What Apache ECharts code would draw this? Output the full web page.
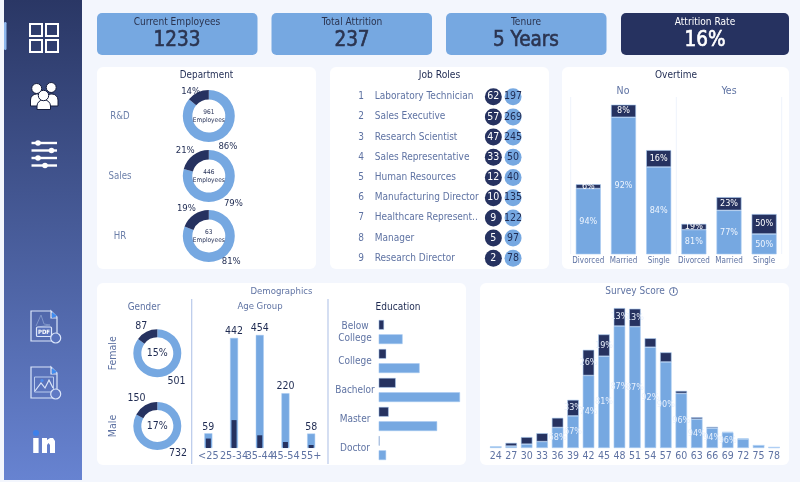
<!DOCTYPE html>
<html>
<head>
<meta charset="utf-8">
<style>html,body{margin:0;padding:0;background:#f3f6fd}#chart{width:800px;height:482px}</style>
<script src="https://cdn.jsdelivr.net/npm/echarts@6/dist/echarts.min.js"></script>
</head>
<body>
<div id="chart"></div>
<script>
// Attrition dashboard: values
const kpiLabels = ['Current Employees', 'Total Attrition', 'Tenure', 'Attrition Rate'];
const kpiValues = ['1233', '237', '5 Years', '16%'];

const deptNames = ['R&D', 'Sales', 'HR'];
const deptActive = [828, 354, 51];
const deptLeft = [133, 92, 12];

const roleRanks = ['1', '2', '3', '4', '5', '6', '7', '8', '9'];
const roleNames = ['Laboratory Technician', 'Sales Executive', 'Research Scientist', 'Sales Representative', 'Human Resources', 'Manufacturing Director', 'Healthcare Represent..', 'Manager', 'Research Director'];
const roleLeft = [62, 57, 47, 33, 12, 10, 9, 5, 2];
const roleActive = [197, 269, 245, 50, 40, 135, 122, 97, 78];

const maritalStatus = ['Divorced', 'Married', 'Single'];
const overtimeNoActive = [214, 446, 284];
const overtimeNoLeft = [14, 41, 55];
const overtimeYesActive = [80, 143, 66];
const overtimeYesLeft = [19, 43, 65];

const genderNames = ['Female', 'Male'];
const genderActive = [501, 732];
const genderLeft = [87, 150];

const ageGroups = ['<25', '25-34', '35-44', '45-54', '55+'];
const ageTotal = [59, 442, 454, 220, 58];
const ageLeft = [38, 112, 51, 24, 12];

const educationLevels = ['Below\nCollege', 'College', 'Bachelor', 'Master', 'Doctor'];
const educationActive = [139, 238, 473, 340, 43];
const educationLeft = [31, 44, 99, 58, 5];

const surveyScores = ['24', '27', '30', '33', '36', '39', '42', '45', '48', '51', '54', '57', '60', '63', '66', '69', '72', '75', '78'];
const surveyActive = [2, 3, 6, 10, 32, 50, 113, 143, 190, 189, 157, 134, 85, 45, 31, 24, 14, 4, 1];
const surveyLeft = [0, 5, 11, 13, 15, 25, 40, 34, 28, 28, 14, 15, 4, 3, 2, 1, 1, 0, 0];
const surveyActiveLabelled = ['36', '39', '42', '45', '48', '51', '54', '57', '60', '63', '66', '69'];
const surveyLeftLabelled = ['39', '42', '45', '48', '51'];

// Shared styles
const FONT = '"DejaVu Sans Condensed", "DejaVu Sans", sans-serif';
const LIGHT = '#76a8e1', DARK = '#263260', EDGE = '#a9cbf2';
const MUTED = '#5f73a3', INK = '#1f2b52';

const pct = (a, b) => Math.round(a / (a + b) * 100) + '%';
const txt = (x, y, text, size, color, extra) => Object.assign({
  type: 'text', x, y, z: 20, silent: true,
  style: Object.assign({ text, fontSize: size, fontFamily: FONT, fill: color, textAlign: 'center', textVerticalAlign: 'middle' }, extra || {})
});
const card = (x, y, w, h, fill, r, stroke) => ({
  type: 'rect', z: -10, silent: true, shape: { x, y, width: w, height: h, r: r || 6 },
  style: { fill, stroke: stroke || null, lineWidth: stroke ? 1 : 0 }
});
const hline = (x1, y1, x2, y2, stroke, lw) => ({
  type: 'line', z: 5, silent: true, shape: { x1, y1, x2, y2 }, style: { stroke, lineWidth: lw || 1 }
});
const poly = (points, stroke, lw, fill) => ({
  type: fill ? 'polygon' : 'polyline', z: 5, silent: true, shape: { points },
  style: fill ? { fill } : { stroke, lineWidth: lw || 1, fill: null }
});
const dot = (cx, cy, r, fill, stroke, lw) => ({
  type: 'circle', z: 6, silent: true, shape: { cx, cy, r },
  style: { fill: fill || null, stroke: stroke || null, lineWidth: lw || 1 }
});
const bx = (x, y, w, h, style, r) => ({
  type: 'rect', z: 5, silent: true, shape: { x, y, width: w, height: h, r: r || 0 }, style
});

// Panels, headings and the sidebar
const graphic = [
  { type: 'rect', z: -11, silent: true, shape: { x: 4, y: 0, width: 78, height: 480 },
    style: { fill: new echarts.graphic.LinearGradient(0, 0, 0, 1, [{ offset: 0, color: '#2a3765' }, { offset: 1, color: '#6783d1' }]) } },
  card(4, 22, 2.5, 28, '#8fb8ee', 0),
  card(97, 67, 219, 202, '#fff'), card(330, 67, 219, 202, '#fff'), card(562, 67, 227, 202, '#fff'),
  card(97, 283, 369, 182, '#fff'), card(480, 283, 309, 182, '#fff'),
  card(97, 13, 160.5, 42, LIGHT, 5), card(271.5, 13, 160.5, 42, LIGHT, 5), card(446, 13, 160.5, 42, LIGHT, 5), card(621, 13, 168, 42, DARK, 5),
  txt(206.5, 75.5, 'Department', 9.8, INK), txt(439.5, 75.5, 'Job Roles', 10.2, INK), txt(676, 75.5, 'Overtime', 10, INK),
  txt(623, 91, 'No', 10.5, MUTED), txt(729, 91, 'Yes', 10.5, MUTED),
  txt(281.5, 291.5, 'Demographics', 9.5, MUTED), txt(635, 291.5, 'Survey Score', 10, MUTED),
  dot(673.5, 291.5, 4, null, MUTED, 1), txt(673.5, 291.5, 'i', 7, MUTED, { fontWeight: 'bold' }),
  txt(144, 307, 'Gender', 9.9, MUTED), txt(260, 307, 'Age Group', 9.5, MUTED), txt(398, 307, 'Education', 10, INK),
  hline(191.7, 299, 191.7, 464, '#b9c9ea', 1.2), hline(328, 299, 328, 464, '#b9c9ea', 1.2),
  hline(570.7, 97, 570.7, 254, '#eef3fc'), hline(676.3, 97, 676.3, 254, '#eef3fc'), hline(781.7, 97, 781.7, 254, '#eef3fc'),

  // Dashboard icon
  bx(30, 24, 12, 12, { fill: null, stroke: '#fff', lineWidth: 2 }), bx(46, 24, 12, 12, { fill: null, stroke: '#fff', lineWidth: 2 }),
  bx(30, 40, 12, 12, { fill: null, stroke: '#fff', lineWidth: 2 }), bx(46, 40, 12, 12, { fill: null, stroke: '#fff', lineWidth: 2 }),
  // People icon
  bx(30.5, 94, 13, 12, { fill: '#fff', stroke: '#141c3c', lineWidth: 1 }, [6, 6, 0, 0]),
  bx(45, 94, 13, 12, { fill: '#fff', stroke: '#141c3c', lineWidth: 1 }, [6, 6, 0, 0]),
  dot(36.7, 88.5, 5, '#fff', '#141c3c'), dot(51.2, 87.5, 5, '#fff', '#141c3c'),
  bx(37, 100, 13.5, 9.5, { fill: '#fff', stroke: '#141c3c', lineWidth: 1 }, [6, 6, 0, 0]),
  dot(43.5, 95.5, 5.2, '#fff', '#141c3c'),
  // Filter icon
  hline(31.5, 143, 57, 143, '#fff', 2.4), hline(31.5, 150.5, 57, 150.5, '#fff', 2.4),
  hline(31.5, 158, 57, 158, '#fff', 2.4), hline(31.5, 165.5, 57, 165.5, '#fff', 2.4),
  dot(38, 143, 2.8, '#fff'), dot(51.5, 150.5, 2.8, '#fff'), dot(38, 158, 2.8, '#fff'), dot(45, 165.5, 2.8, '#fff'),
  // PDF export icon
  poly([[51, 311], [31, 311], [31, 341], [57, 341], [57, 317], [51, 311], [51, 318], [57, 318]], '#dbe6fa', 1.2),
  poly([[52, 312], [57, 316], [52, 318]], null, 0, '#3f8cf0'),
  poly([[36, 326], [41, 315], [44, 324], [50, 325], [38, 327]], '#7f95c8', 1),
  bx(36.5, 327, 15, 9.5, { fill: '#5872bc', stroke: '#dbe6fa', lineWidth: 1.2 }, 1),
  txt(44, 332, 'PDF', 6, '#fff', { fontWeight: 'bold' }),
  dot(55.7, 338, 5, '#5872bc', '#dbe6fa', 1.2), hline(55.7, 335.5, 55.7, 340.5, '#6ea0ee', 1.2),
  // Image export icon
  poly([[51, 367], [31, 367], [31, 398], [57, 398], [57, 373], [51, 367], [51, 374], [57, 374]], '#dbe6fa', 1.2),
  poly([[52, 368], [57, 372], [52, 374]], null, 0, '#3f8cf0'),
  bx(34.5, 377, 19, 15, { fill: null, stroke: '#b9cbee', lineWidth: 1 }),
  poly([[35, 391], [41, 383], [45, 388], [49, 380], [53, 388]], '#dbe6fa', 1.2),
  dot(42, 380.5, 1.6, '#4d8ef0'),
  dot(55.7, 394, 5, '#607ac4', '#dbe6fa', 1.2), hline(55.7, 391.5, 55.7, 396.5, '#6ea0ee', 1.2),
  // Profile link icon
  dot(36, 433, 3, '#3d80ea'), bx(33.2, 438, 5.4, 15, { fill: '#fff' }),
  poly([[42, 438], [47, 438], [47, 440], [50, 438], [53, 438], [55, 441], [55, 453], [50, 453], [50, 445], [48.5, 443], [47, 445], [47, 453], [42, 453]], null, 0, '#fff')
];

// KPI cards
[[177, 0], [352, 1], [526, 2], [705, 3]].forEach(([x, i]) => {
  const c = i === 3 ? '#fff' : '#2b3450';
  graphic.push(txt(x, 22, kpiLabels[i], 10.1, c));
  graphic.push(txt(x, 40.5, kpiValues[i], 20.5, c, { stroke: c, lineWidth: 0.6 }));
});

// Donut series shared by the department and gender blocks
function donut(cx, cy, rIn, rOut, active, left, formatter, size, len, nudge) {
  return {
    type: 'pie', center: [cx, cy], radius: [rIn, rOut], startAngle: 90, silent: true,
    avoidLabelOverlap: false, animation: false,
    label: { show: true, position: 'outside', formatter, fontSize: size, fontFamily: FONT, color: INK, distanceToLabelLine: 0 },
    labelLine: { show: false, length: len, length2: 0 },
    labelLayout: p => ({ dx: nudge[p.dataIndex][0], dy: nudge[p.dataIndex][1] }),
    data: [{ value: active, itemStyle: { color: LIGHT } }, { value: left, itemStyle: { color: DARK } }]
  };
}

const deptLabelShift = [[[-3, 3], [4, 3]], [[-3, 4], [4, -2]], [[-4, 1], [4, -3]]];
const genderLabelShift = [[[-2, 4], [2, -3]], [[-2, 4], [2, -4]]];

const series = [];
deptNames.forEach((name, i) => {
  const cy = 116 + 60 * i;
  series.push(donut(208.8, cy, 16.5, 26, deptActive[i], deptLeft[i], p => Math.round(p.percent) + '%', 9.5, 4, deptLabelShift[i]));
  graphic.push(txt(120, cy, name, 9.6, '#6d80aa'));
  graphic.push(txt(208.8, cy - 4, String(deptActive[i] + deptLeft[i]), 6.5, INK));
  graphic.push(txt(208.8, cy + 4, 'Employees', 6.5, INK));
});
genderNames.forEach((name, i) => {
  const cy = i === 0 ? 353.3 : 426;
  series.push(donut(157.3, cy, 16, 24, genderActive[i], genderLeft[i], p => String(p.value), 10.5, 3, genderLabelShift[i]));
  graphic.push(txt(157.3, cy, pct(genderLeft[i], genderActive[i]), 10.5, INK));
  graphic.push(txt(0, 0, name, 10.5, MUTED));
  const t = graphic[graphic.length - 1];
  t.x = 113; t.y = cy; t.rotation = Math.PI / 2;
});

// Job roles: two columns of value badges against the ranked role names
const badge = (values, x, fill, labelColor) => ({
  type: 'scatter', xAxisIndex: 0, yAxisIndex: 0, symbolSize: 17, silent: true,
  data: values.map((v, i) => [x, i, v]),
  itemStyle: { color: fill, opacity: 1 },
  label: { show: true, position: 'inside', formatter: p => p.value[2], fontSize: 10.5, fontFamily: FONT, color: labelColor }
});
series.push(badge(roleLeft, 0, DARK, '#fff'), badge(roleActive, 1, LIGHT, INK));

// Overtime facets
const stackedPct = (values, others) => p => pct(values[p.dataIndex], others[p.dataIndex]);
function overtimeSeries(axis, active, left) {
  const style = { fontSize: 9, fontFamily: FONT };
  return [
    { type: 'bar', xAxisIndex: axis, yAxisIndex: axis, stack: 'o' + axis, barWidth: 25, silent: true, data: active,
      itemStyle: { color: LIGHT, borderColor: EDGE, borderWidth: 0.6 },
      label: Object.assign({ show: true, position: 'inside', color: '#edf4fe', formatter: stackedPct(active, left) }, style) },
    { type: 'bar', xAxisIndex: axis, yAxisIndex: axis, stack: 'o' + axis, barWidth: 25, silent: true, data: left,
      itemStyle: { color: DARK, borderColor: EDGE, borderWidth: 0.6 },
      label: Object.assign({ show: true, position: 'inside', color: '#fff', formatter: stackedPct(left, active) }, style) }
  ];
}
series.push(...overtimeSeries(1, overtimeNoActive, overtimeNoLeft));
series.push(...overtimeSeries(2, overtimeYesActive, overtimeYesLeft));

// Age group: full bars with a narrower leavers bar in front, each on its own category axis so both stay centred
series.push(
  { type: 'bar', xAxisIndex: 3, yAxisIndex: 3, barWidth: 8, silent: true, data: ageTotal,
    itemStyle: { color: LIGHT, borderColor: EDGE, borderWidth: 0.5 },
    label: { show: true, position: 'top', distance: 1, fontSize: 10.5, fontFamily: FONT, color: INK } },
  { type: 'bar', xAxisIndex: 4, yAxisIndex: 3, barWidth: 5, silent: true, data: ageLeft, itemStyle: { color: DARK } }
);

// Education: paired horizontal bars
series.push(
  { type: 'bar', xAxisIndex: 5, yAxisIndex: 4, barWidth: 9.7, barGap: '48%', silent: true, data: educationLeft, itemStyle: { color: DARK, borderColor: EDGE, borderWidth: 0.5 } },
  { type: 'bar', xAxisIndex: 5, yAxisIndex: 4, barWidth: 9.7, silent: true, data: educationActive, itemStyle: { color: LIGHT, borderColor: EDGE, borderWidth: 0.5 } }
);

// Survey score histogram
const surveyBar = (values, others, labelled, fill, color) => ({
  type: 'bar', xAxisIndex: 6, yAxisIndex: 5, stack: 'survey', barWidth: 11.5, silent: true,
  itemStyle: { color: fill, borderColor: EDGE, borderWidth: 0.6 },
  data: values.map((v, i) => ({
    value: v,
    label: {
      show: labelled.includes(surveyScores[i]), position: 'inside', color, fontSize: 9, fontFamily: FONT,
      formatter: () => pct(v, others[i])
    }
  }))
});
series.push(
  surveyBar(surveyActive, surveyLeft, surveyActiveLabelled, LIGHT, '#e9f1fd'),
  surveyBar(surveyLeft, surveyActive, surveyLeftLabelled, DARK, '#e9f1fd')
);

const hiddenValue = (max) => ({ type: 'value', min: 0, max, show: false, splitLine: { show: false } });
const catLabel = (size, margin) => ({ interval: 0, fontSize: size, fontFamily: FONT, color: MUTED, margin, hideOverlap: false });
const bareAxis = { axisLine: { show: false }, axisTick: { show: false }, splitLine: { show: false } };

const option = {
  backgroundColor: '#f3f6fd',
  animation: false,
  graphic: { elements: graphic },
  grid: [
    { left: 483.5, top: 86.6, width: 39.4, height: 181.8 },
    { left: 570.7, top: 97, width: 105.6, height: 157.3 },
    { left: 676.3, top: 97, width: 105.4, height: 157.3 },
    { left: 195.5, top: 320, width: 128.5, height: 128 },
    { left: 378.7, top: 317.5, width: 81.3, height: 145 },
    { left: 488, top: 300, width: 293.8, height: 148 }
  ],
  xAxis: [
    Object.assign({ type: 'value', gridIndex: 0, min: -0.5, max: 1.5, show: false }, bareAxis),
    Object.assign({ type: 'category', gridIndex: 1, data: maritalStatus, axisLabel: catLabel(8, 3) }, bareAxis),
    Object.assign({ type: 'category', gridIndex: 2, data: maritalStatus, axisLabel: catLabel(8, 3) }, bareAxis),
    Object.assign({ type: 'category', gridIndex: 3, data: ageGroups, axisLabel: catLabel(10.8, 3) }, bareAxis),
    Object.assign({ type: 'category', gridIndex: 3, data: ageGroups, show: false }, bareAxis),
    Object.assign({ type: 'value', gridIndex: 4, min: 0, max: 473, show: false }, bareAxis),
    Object.assign({ type: 'category', gridIndex: 5, data: surveyScores, axisLabel: catLabel(10.5, 3) }, bareAxis)
  ],
  yAxis: [
    Object.assign({ type: 'category', gridIndex: 0, inverse: true, data: roleNames, position: 'left',
      axisLabel: Object.assign(catLabel(10, 108.8), { align: 'left', verticalAlign: 'middle', padding: [0, 0, 2, 0] }) }, bareAxis),
    Object.assign(hiddenValue(512), { gridIndex: 1 }),
    Object.assign(hiddenValue(512), { gridIndex: 2 }),
    Object.assign(hiddenValue(514), { gridIndex: 3 }),
    Object.assign({ type: 'category', gridIndex: 4, inverse: true, data: educationLevels,
      axisLabel: Object.assign(catLabel(10, 23.7), { align: 'center', lineHeight: 12 }) }, bareAxis),
    Object.assign(hiddenValue(230.6), { gridIndex: 5 }),
    Object.assign({ type: 'category', gridIndex: 0, inverse: true, data: roleRanks, position: 'left',
      axisLabel: Object.assign(catLabel(10, 122.5), { align: 'center', padding: [0, 0, 2, 0] }) }, bareAxis)
  ],
  series
};

echarts.init(document.getElementById('chart'), null, { renderer: 'canvas' }).setOption(option);
</script>
</body>
</html>
